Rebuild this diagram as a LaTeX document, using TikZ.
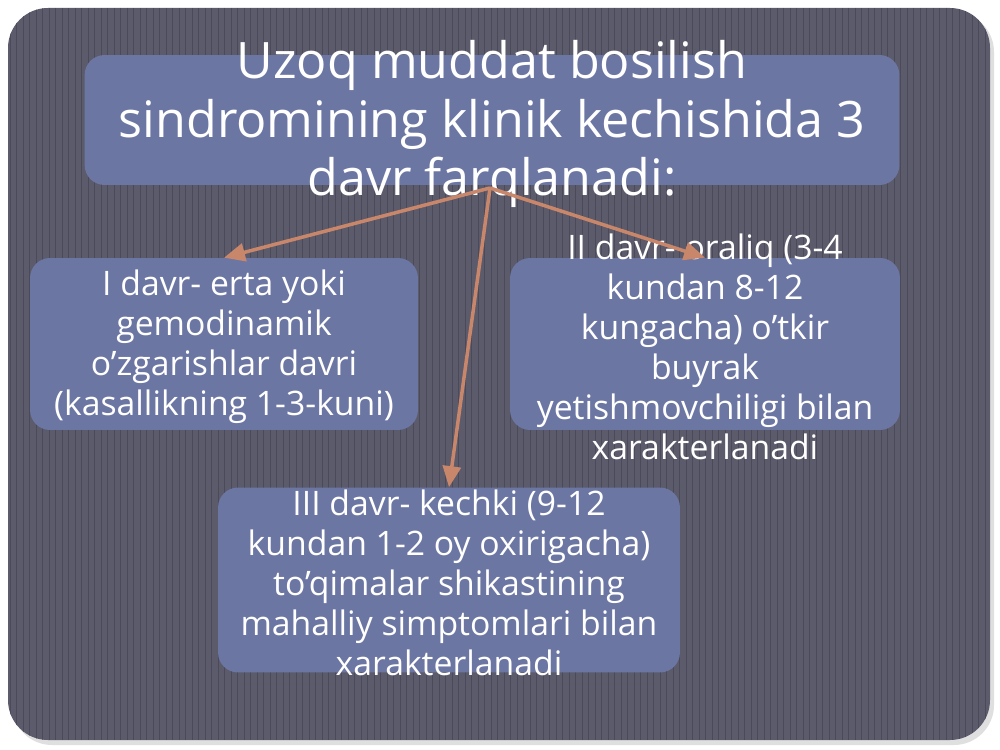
\documentclass[tikz,border=0pt]{standalone}
\usepackage{fontspec}
\setmainfont{Open Sans}
\usetikzlibrary{arrows.meta}
\definecolor{bg1}{RGB}{92,91,107}
\definecolor{stripe1}{RGB}{74,74,90}
\definecolor{boxblue}{RGB}{108,118,163}
\definecolor{arrowred}{RGB}{200,134,107}

\begin{document}
\begin{tikzpicture}[x=0.02cm, y=-0.02cm,
    box/.style={rectangle, rounded corners=0.4cm, fill=boxblue, inner sep=0pt},
    txt/.style={align=center, text=white, yshift=-0.06cm, font=\fontsize{19.2}{22.7}\selectfont},
    arrow/.style={-{Triangle[length=0.42cm,width=0.36cm]}, line width=2pt, draw=arrowred}]
    \useasboundingbox (0,0) rectangle (1000,750);
    % background with stripes
    \fill[gray!25, rounded corners=0.8cm] (12,12) rectangle (994,745);
    \fill[bg1, rounded corners=0.8cm] (8,8) rectangle (990,740);
    \begin{scope}
        \clip[rounded corners=0.8cm] (8,8) rectangle (990,740);
        \foreach \i in {0,...,151}
            \draw[stripe1, line width=0.5pt] (10+6.5*\i,8) -- (10+6.5*\i,740);
    \end{scope}
    % boxes
    \node[box, minimum width=16.3cm, minimum height=2.6cm] (title) at (492,120) {};
    \node[box, minimum width=7.76cm, minimum height=3.44cm] (left) at (224,344) {};
    \node[box, minimum width=7.8cm, minimum height=3.44cm] (right) at (705,344) {};
    \node[box, minimum width=9.24cm, minimum height=3.7cm] (bottom) at (449,580) {};
    % texts
    \node[align=center, text=white, yshift=-0.08cm, font=\fontsize{28.6}{33.5}\selectfont] (titletext) at (title)
        {Uzoq muddat bosilish\\sindromining klinik kechishida 3\\davr farqlanadi:};
    \node[txt] (lefttext) at (left)
        {I davr- erta yoki\\gemodinamik\\o’zgarishlar davri\\(kasallikning 1-3-kuni)};
    \node[txt] (righttext) at (right)
        {II davr- oraliq (3-4\\kundan 8-12\\kungacha) o’tkir\\buyrak\\yetishmovchiligi bilan\\xarakterlanadi};
    \node[txt] (bottomtext) at (bottom)
        {III davr- kechki (9-12\\kundan 1-2 oy oxirigacha)\\to’qimalar shikastining\\mahalliy simptomlari bilan\\xarakterlanadi};
    % arrows
    \coordinate (fork) at (490,188);
    \draw[arrow] (fork) -- (left.north);
    \draw[arrow] (fork) -- (right.north);
    \draw[arrow] (fork) -- (bottom.north);
\end{tikzpicture}
\end{document}
